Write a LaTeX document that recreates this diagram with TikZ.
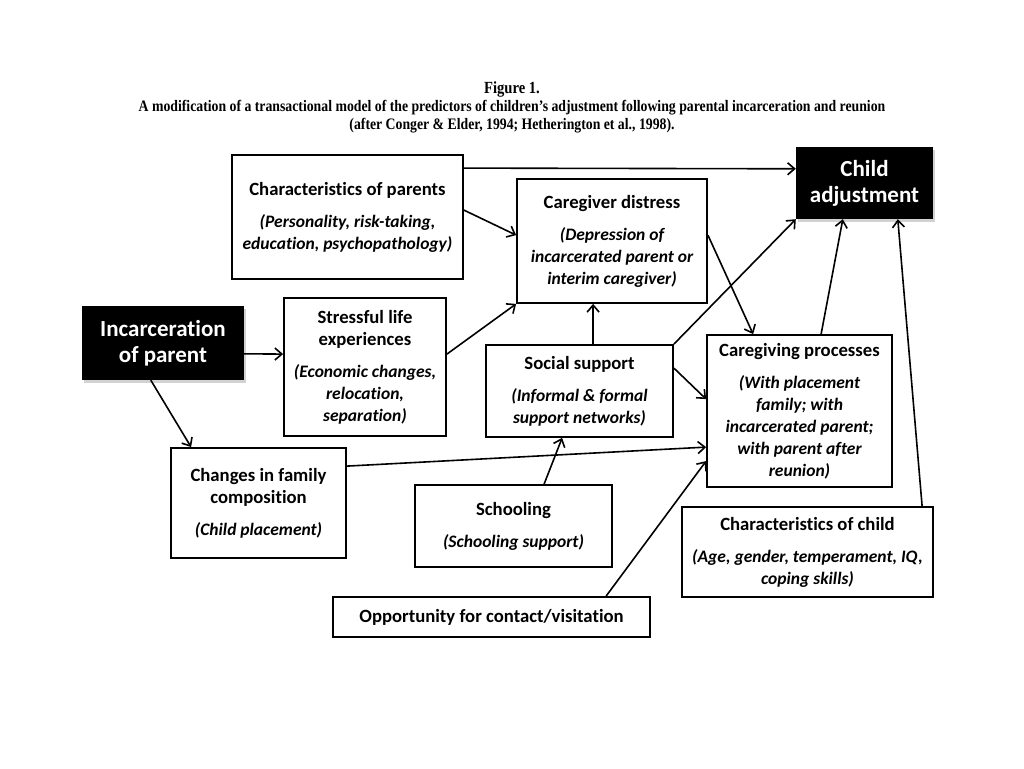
\documentclass[tikz,border=0pt]{standalone}
\usepackage{fontspec}
\setmainfont[Ligatures=NoCommon]{Carlito}
\newfontfamily\titlefont[FakeStretch=0.86]{Liberation Serif}
\usetikzlibrary{arrows.meta,shadows,calc}
\newcommand\ital[1]{{\fontsize{17.5}{22}\selectfont\itshape #1}}
\begin{document}
\begin{tikzpicture}[x=1pt,y=-1pt,
  box/.style={draw=black,line width=1.8pt,fill=white,align=center,inner sep=0pt,
    font=\fontsize{18.7}{22}\selectfont\bfseries},
  dark/.style={fill=black,text=white,align=center,inner sep=0pt,
    font=\fontsize{23}{26}\selectfont\bfseries,
    drop shadow={shadow xshift=2pt,shadow yshift=-3pt,opacity=0.35}},
  arr/.style={-{Straight Barb[length=7pt,width=12pt,line width=1.6pt]},line width=1.6pt},
  ttl/.style={font=\titlefont\bfseries\fontsize{16}{18}\selectfont,align=center,inner sep=0pt}
]
\useasboundingbox[fill=white] (0,0) rectangle (1024,768);

% title
\node[ttl] (title) at (512,107) {{\fontsize{17}{18}\selectfont Figure 1.}\\A modification of a transactional model of the predictors of children’s adjustment following parental incarceration and reunion\\(after Conger \& Elder, 1994; Hetherington et al., 1998).};

% boxes
\node[box,minimum width=231pt,minimum height=124pt] (cp) at (347.5,217)
  {Characteristics of parents\\[10pt]\ital{(Personality, risk-taking,}\\\ital{education, psychopathology)}};
\node[box,minimum width=190pt,minimum height=124pt] (cd) at (612,241)
  {Caregiver distress\\[10pt]\ital{(Depression of}\\\ital{incarcerated parent or}\\\ital{interim caregiver)}};
\node[dark,minimum width=137pt,minimum height=72pt] (ca) at (864.5,183)
  {Child\\adjustment};
\node[dark,minimum width=162pt,minimum height=74pt] (ip) at (163,343)
  {Incarceration\\of parent};
\node[box,minimum width=162pt,minimum height=138pt] (sl) at (365,367)
  {Stressful life\\experiences\\[10pt]\ital{(Economic changes,}\\\ital{relocation,}\\\ital{separation)}};
\node[box,minimum width=187pt,minimum height=92pt] (ss) at (579.5,391)
  {Social support\\[10pt]\ital{(Informal \& formal}\\\ital{support networks)}};
\node[box,minimum width=185pt,minimum height=152pt] (gp) at (799.5,411)
  {Caregiving processes\\[10pt]\ital{(With placement}\\\ital{family; with}\\\ital{incarcerated parent;}\\\ital{with parent after}\\\ital{reunion)}};
\node[box,minimum width=175pt,minimum height=110pt] (cf) at (258.5,503)
  {Changes in family\\composition\\[10pt]\ital{(Child placement)}};
\node[box,minimum width=197pt,minimum height=82pt] (sc) at (513.5,526)
  {Schooling\\[10pt]\ital{(Schooling support)}};
\node[box,minimum width=251pt,minimum height=90pt] (ch) at (807.5,552)
  {Characteristics of child\\[10pt]\ital{(Age, gender, temperament, IQ,}\\\ital{coping skills)}};
\node[box,minimum width=317pt,minimum height=40pt] (op) at (491.5,617)
  {Opportunity for contact/visitation};

% connectors
\draw[arr] ($(cp.north east)+(0,14)$) -- ($(ca.north west)+(0,22)$);
\draw[arr] ($(cp.north east)+(0,56)$) -- ($(cd.north west)+(0,57)$);
\draw[arr] ($(ip.north east)+(0,48)$) -- ($(sl.north west)+(0,57)$);
\draw[arr] ($(ip.south west)+(69,0)$) -- ($(cf.north west)+(21,0)$);
\draw[arr] ($(sl.north east)+(0,57)$) -- (cd.south west);
\draw[arr] ($(ss.north west)+(108,0)$) -- ($(cd.south west)+(77,0)$);
\draw[arr] (ss.north east) -- (ca.south west);
\draw[arr] ($(ss.north east)+(0,24)$) -- ($(gp.north west)+(0,65)$);
\draw[arr] ($(cd.north east)+(0,57)$) -- ($(gp.north west)+(47,0)$);
\draw[arr] ($(cf.north east)+(0,19)$) -- ($(gp.north west)+(0,113)$);
\draw[arr] ($(sc.north west)+(130,0)$) -- ($(ss.south west)+(77,0)$);
\draw[arr] ($(op.north west)+(274,0)$) -- ($(gp.north west)+(0,127)$);
\draw[arr] ($(gp.north west)+(115,0)$) -- ($(ca.south west)+(47,0)$);
\draw[arr] ($(ch.north west)+(241,0)$) -- ($(ca.south west)+(102,0)$);
\end{tikzpicture}
\end{document}
